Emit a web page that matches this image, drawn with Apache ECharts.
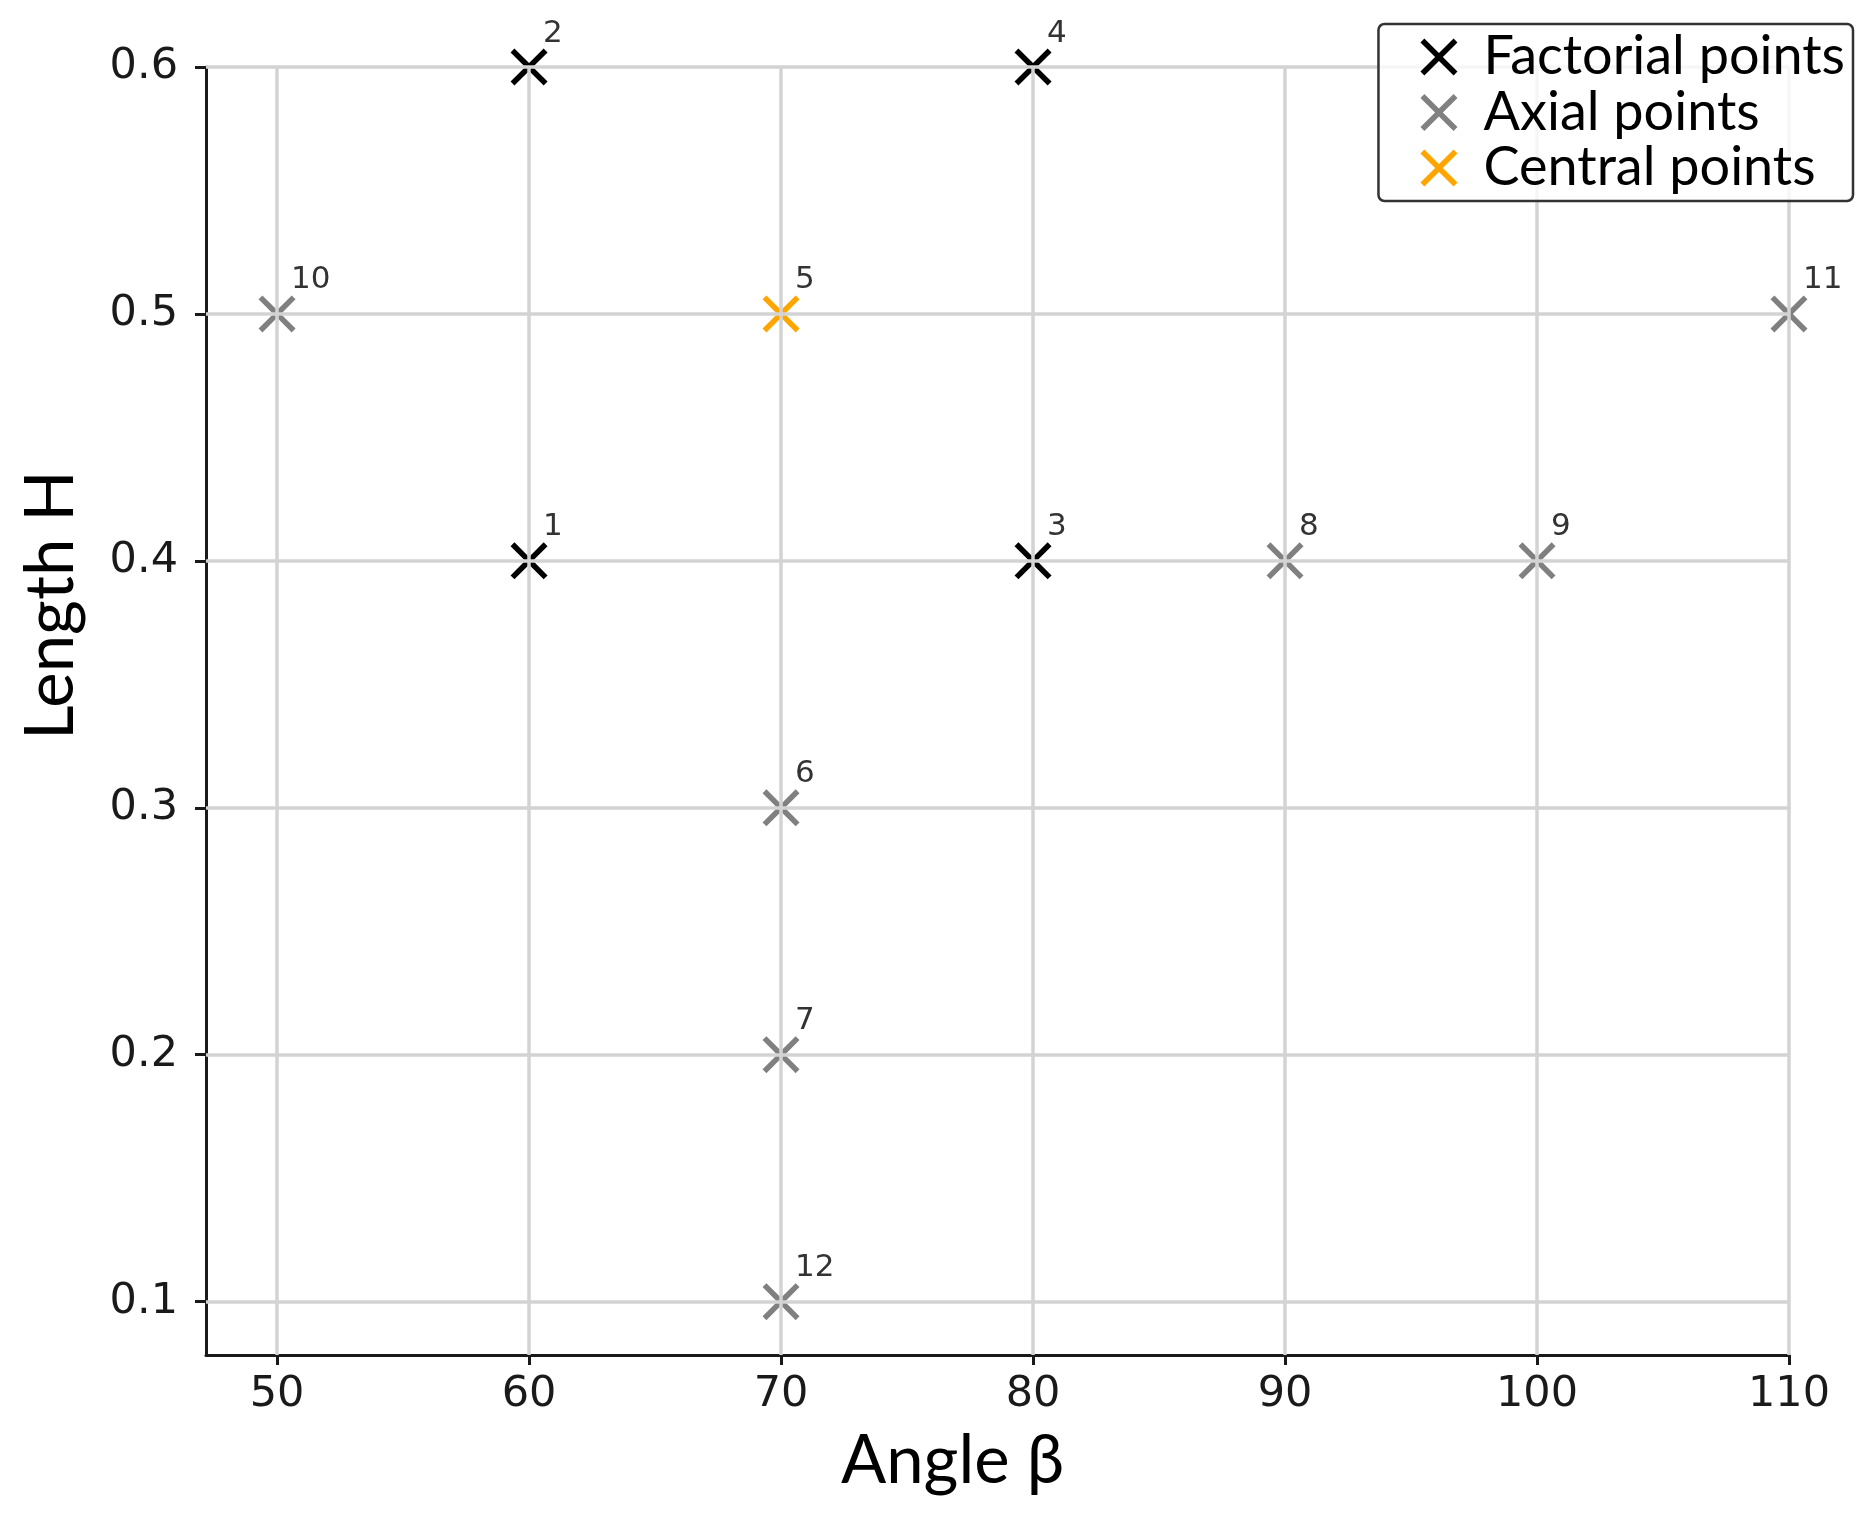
<!DOCTYPE html>
<html>
<head>
<meta charset="utf-8">
<script src="https://cdn.jsdelivr.net/npm/echarts@6/dist/echarts.min.js"></script>
<style>
  html, body { margin: 0; padding: 0; background: #fff; }
  #chart { width: 1875px; height: 1519px; }
</style>
</head>
<body>
<div id="chart"></div>
<script>
// design points (run number, angle beta, length H, point type)
const pointIds = [1, 2, 3, 4, 5, 6, 7, 8, 9, 10, 11, 12];
const angleBeta = [60, 60, 80, 80, 70, 70, 70, 90, 100, 50, 110, 70];
const lengthH = [0.4, 0.6, 0.4, 0.6, 0.5, 0.3, 0.2, 0.4, 0.4, 0.5, 0.5, 0.1];
const pointType = ['factorial', 'factorial', 'factorial', 'factorial', 'central',
  'axial', 'axial', 'axial', 'axial', 'axial', 'axial', 'axial'];

const groups = [
  { key: 'factorial', name: 'Factorial points', color: '#000000' },
  { key: 'axial', name: 'Axial points', color: '#808080' },
  { key: 'central', name: 'Central points', color: '#ffa500' }
];

const xTicks = [50, 60, 70, 80, 90, 100, 110];
const yTicks = [0.1, 0.2, 0.3, 0.4, 0.5, 0.6];

// thick "x" marker, like matplotlib's
const xMarker = 'path://M10.5,0L50,39.5L89.5,0L100,10.5L60.5,50L100,89.5L89.5,100L50,60.5L10.5,100L0,89.5L39.5,50L0,10.5Z';

const tickFont = 'DejaVu Sans';
const titleFont = 'Lato';

function pointsOf(key) {
  const out = [];
  pointIds.forEach((id, i) => {
    if (pointType[i] === key) out.push([angleBeta[i], lengthH[i], id]);
  });
  return out;
}

const chart = echarts.init(document.getElementById('chart'));

const gridSeries = {
  type: 'scatter',
  data: [],
  z: 1,
  silent: true,
  markLine: {
    silent: true,
    symbol: ['none', 'none'],
    label: { show: false },
    lineStyle: { color: '#d3d3d3', width: 3.5, type: 'solid' },
    emphasis: { disabled: true },
    data: xTicks.map(v => ({ xAxis: v })).concat(yTicks.map(v => ({ yAxis: v })))
  }
};

const pointSeries = groups.map(g => ({
  name: g.name,
  type: 'scatter',
  z: 3,
  symbol: xMarker,
  symbolSize: 37,
  itemStyle: { color: g.color, opacity: 1 },
  data: pointsOf(g.key),
  label: {
    show: true,
    position: 'inside',
    align: 'left',
    verticalAlign: 'bottom',
    offset: [14, -18],
    formatter: p => String(p.value[2]),
    color: '#333333',
    fontFamily: tickFont,
    fontSize: 31
  }
}));

chart.setOption({
  animation: false,
  backgroundColor: '#ffffff',
  grid: { left: 206, right: 86, top: 67, bottom: 164, containLabel: false },
  legend: {
    data: groups.map(g => g.name),
    z: 10,
    orient: 'vertical',
    right: 22,
    top: 24,
    padding: [6, 8, 6, 42],
    itemWidth: 37,
    itemHeight: 37,
    itemGap: 1.5,
    backgroundColor: 'rgba(255,255,255,0.8)',
    borderColor: '#333333',
    borderWidth: 2.5,
    borderRadius: 6,
    textStyle: { fontFamily: titleFont, fontSize: 54, color: '#000', padding: [0, 0, 0, 21] }
  },
  xAxis: {
    type: 'value',
    min: 47.18,
    max: 110,
    name: 'Angle β',
    nameLocation: 'middle',
    nameGap: 73,
    nameTextStyle: { fontFamily: titleFont, fontSize: 67, color: '#000', padding: [0, 90, 0, 0] },
    axisLine: { show: true, lineStyle: { color: '#1a1a1a', width: 3 } },
    axisTick: { show: true, customValues: xTicks, length: 10, lineStyle: { color: '#1a1a1a', width: 3 } },
    axisLabel: {
      customValues: xTicks,
      margin: 18,
      fontFamily: tickFont,
      fontSize: 43,
      color: '#1a1a1a'
    },
    splitLine: { show: false }
  },
  yAxis: {
    type: 'value',
    min: 0.0784,
    max: 0.6,
    name: 'Length H',
    nameLocation: 'middle',
    nameGap: 121,
    nameTextStyle: { fontFamily: titleFont, fontSize: 67, color: '#000', padding: [0, 0, 0, 212] },
    axisLine: { show: true, lineStyle: { color: '#1a1a1a', width: 3 } },
    axisTick: { show: true, customValues: yTicks, length: 11, lineStyle: { color: '#1a1a1a', width: 3 } },
    axisLabel: {
      customValues: yTicks,
      margin: 28,
      fontFamily: tickFont,
      fontSize: 43,
      color: '#1a1a1a',
      formatter: v => v.toFixed(1)
    },
    splitLine: { show: false }
  },
  series: [gridSeries].concat(pointSeries)
});
</script>
</body>
</html>
